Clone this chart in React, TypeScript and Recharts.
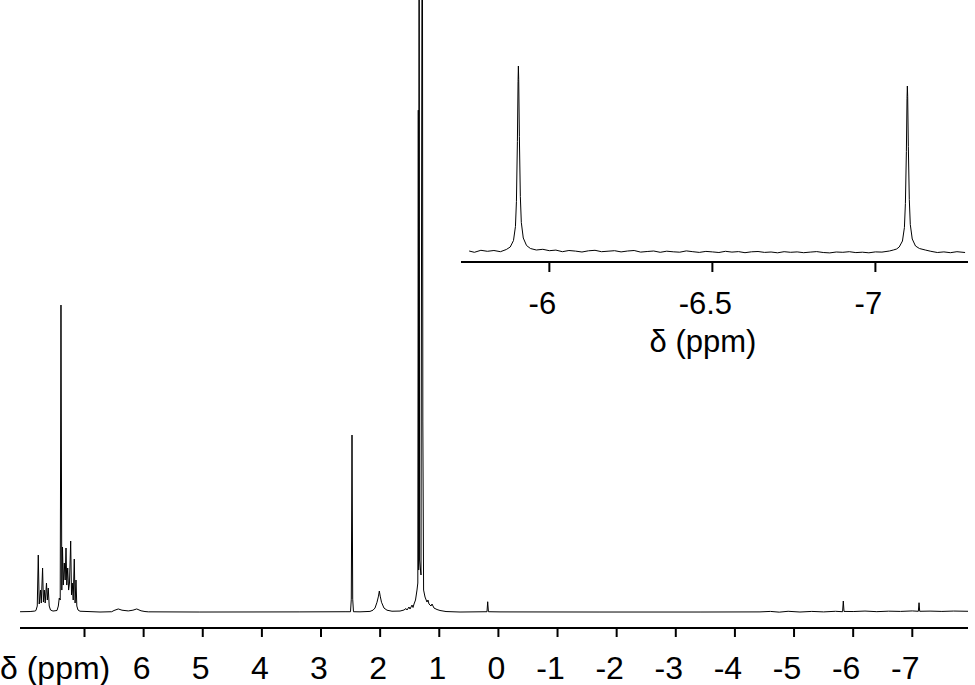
import { LineChart, Line, XAxis, YAxis } from 'recharts';

const FONT = 'Liberation Sans, Arial, sans-serif';

// main 1H spectrum, chemical shift (ppm) read along the lower axis
const MAIN_PPM = [
  8.09, 7.92, 7.84, 7.821, 7.799, 7.782, 7.766, 7.744, 7.731, 7.709, 7.695, 7.68, 7.665, 7.643, 7.629, 7.613,
  7.597, 7.575, 7.533, 7.465, 7.443, 7.427, 7.411, 7.398, 7.384, 7.372, 7.359, 7.342, 7.327, 7.313, 7.3,
  7.284, 7.269, 7.254, 7.234, 7.22, 7.207, 7.191, 7.173, 7.159, 7.144, 7.13, 7.11, 7.076,
  6.738, 6.54, 6.501, 6.429, 6.366, 6.26, 6.181, 6.117, 6.044, 5.977, 5.921, 5.049, 3.357, 2.594,
  2.501, 2.488, 2.476, 2.464, 2.451, 2.341, 2.172, 2.121, 2.087, 2.053, 2.028, 2.014, 1.999, 1.977,
  1.935, 1.884, 1.8, 1.664, 1.597, 1.563, 1.546, 1.512, 1.495, 1.461, 1.444, 1.427, 1.402, 1.377,
  1.363, 1.355, 1.348, 1.341, 1.333, 1.309, 1.287, 1.278, 1.265, 1.241, 1.208, 1.191, 1.174, 1.14,
  1.123, 1.089, 1.038, 0.988, 0.886, 0.649, 0.193, 0.181, 0.169, -0.027, -1.718, -3.41, -4.424,
  -4.6, -4.75, -4.9, -5.1, -5.3, -5.5, -5.7, -5.821, -5.833, -5.845, -6.0, -6.2, -6.4, -6.6, -6.8,
  -7.0, -7.102, -7.114, -7.125, -7.3, -7.5, -7.7, -7.942,
];

const MAIN_INTENSITY = [
  0.05, 0.08, 0.16, 0.25, 0.98, 9.31, 1.31, 3.59, 1.47, 7.19, 1.63, 3.59, 1.47, 4.74, 1.96, 3.92,
  0.98, 0.33, 0.16, 0.25, 0.98, 2.29, 1.96, 50.16, 3.59, 10.62, 4.41, 8.01, 5.23, 10.46, 4.41,
  7.19, 3.59, 4.74, 11.6, 2.78, 4.74, 1.96, 8.66, 1.47, 5.23, 0.98, 0.33, 0.13,
  0, 0.05, 0.25, 0.5, 0.3, 0.18, 0.3, 0.5, 0.2, 0.08, 0.03, 0, 0.02, 0.05,
  0.05, 2.1, 28.92, 2.1, 0.05, 0.03, 0.1, 0.3, 0.65, 1.6, 2.6, 3.43, 2.6, 1.6,
  0.65, 0.3, 0.13, 0.16, 0.33, 0.57, 0.33, 0.82, 0.49, 1.14, 0.74, 1.31, 1.96, 3.59,
  4.74, 82.0, 6.86, 140, 8.5, 6.05, 140, 31.05, 3.59, 2.45, 1.63, 1.96, 1.31, 0.98,
  1.31, 0.65, 0.41, 0.25, 0.08, 0, 0.05, 1.68, 0.05, 0.02, 0, 0, 0.02,
  0.1, -0.02, 0.12, 0, 0.1, 0.02, 0.12, 0.05, 1.8, 0.1, 0.08, 0.16, 0.06, 0.14, 0.1,
  0.18, 0.12, 1.52, 0.12, 0.15, 0.1, 0.16, 0.12,
];

// inset: expanded hydride region
const INSET_PPM = [
  -5.754, -5.77, -5.79, -5.81, -5.83, -5.85, -5.868, -5.88, -5.89, -5.896, -5.899, -5.902, -5.904,
  -5.905, -5.906, -5.908, -5.911, -5.914, -5.92, -5.93, -5.942, -5.96,
  -5.98, -6.0, -6.02, -6.04, -6.06, -6.08, -6.1, -6.12, -6.14, -6.16, -6.18, -6.2, -6.22, -6.24,
  -6.26, -6.28, -6.3, -6.32, -6.34, -6.36, -6.38, -6.4, -6.42, -6.44, -6.46, -6.48, -6.5, -6.52,
  -6.54, -6.56, -6.58, -6.6, -6.62, -6.64, -6.66, -6.68, -6.7, -6.72, -6.74, -6.76, -6.78, -6.8,
  -6.82, -6.84, -6.86, -6.88, -6.9, -6.92, -6.94, -6.96, -6.98, -7.0, -7.02,
  -7.043, -7.055, -7.065, -7.073, -7.083, -7.089, -7.092, -7.095, -7.097, -7.098, -7.099, -7.101,
  -7.104, -7.107, -7.113, -7.123, -7.135, -7.153, -7.17, -7.19, -7.21, -7.23, -7.25, -7.275,
];

const INSET_INTENSITY = [
  0.05, -0.08, 0.12, 0.02, 0.1, -0.02, 0.2, 0.45, 1.1, 2.5, 5.0, 11.0, 17.0,
  18.55, 17.2, 11.5, 5.5, 2.9, 1.35, 0.6, 0.3, 0.15,
  0.22, 0.08, 0.14, -0.02, 0.1, 0.04, -0.05, 0.07, 0.12, -0.02, 0.03, 0.08, -0.04, 0.05,
  0.1, -0.06, 0.0, 0.05, -0.08, 0.03, -0.03, -0.07, 0.06, -0.02, -0.09, 0.01, -0.04, -0.1,
  0.02, -0.06, -0.01, -0.12, -0.03, 0.0, -0.09, -0.05, -0.13, -0.02, -0.08, -0.04, -0.12, -0.06,
  -0.01, -0.1, -0.14, -0.05, -0.08, -0.02, -0.11, -0.07, -0.13, -0.04, -0.06,
  0.05, 0.15, 0.25, 0.45, 1.05, 2.4, 4.8, 10.0, 15.3, 16.55, 15.5, 10.5,
  5.2, 2.7, 1.25, 0.55, 0.3, 0.15, 0.02, -0.1, -0.04, -0.12, -0.02, -0.1,
];

const MAIN_TICKS = [7, 6, 5, 4, 3, 2, 1, 0, -1, -2, -3, -4, -5, -6, -7];
const INSET_TICKS = [-6, -6.5, -7];

const mainData = MAIN_PPM.map((ppm, i) => ({ ppm, y: MAIN_INTENSITY[i] }));
const insetData = INSET_PPM.map((ppm, i) => ({ ppm, y: INSET_INTENSITY[i] }));

// tick label renderer; the original's labels sit a little left of their ticks
function makeTick(size: number, hideValue?: number) {
  return (props: any) => {
    const v = props.payload.value;
    if (v === hideValue) return <g />;
    const shift = v < 0 ? -7 : -2;
    return (
      <text x={props.x + shift} y={props.y} dy="0.71em" textAnchor="middle" fontSize={size} fontFamily={FONT} fill="#000">
        {String(v)}
      </text>
    );
  };
}

export default function App() {
  return (
    <div style={{ position: 'relative', width: 975, height: 685, background: '#fff', overflow: 'hidden' }}>
      <style>{'body{margin:0}'}</style>

      {/* full spectrum */}
      <LineChart width={975} height={685} data={mainData} margin={{ top: 0, right: 7, left: 20, bottom: 0 }}>
        <XAxis
          dataKey="ppm"
          type="number"
          domain={[-7.942, 8.091]}
          reversed
          allowDataOverflow
          ticks={MAIN_TICKS}
          interval={0}
          height={57}
          tickSize={9}
          tickMargin={19}
          axisLine={{ stroke: '#000', strokeWidth: 2 }}
          tickLine={{ stroke: '#000', strokeWidth: 2 }}
          tick={makeTick(32, 7)}
        />
        <YAxis hide type="number" domain={[-2.61, 100]} allowDataOverflow />
        <Line type="linear" dataKey="y" stroke="#000" strokeWidth={1} dot={false} isAnimationActive={false} />
      </LineChart>

      {/* inset */}
      <div style={{ position: 'absolute', left: 0, top: 0 }}>
        <LineChart width={975} height={370} data={insetData} margin={{ top: 40, right: 7, left: 461, bottom: 0 }}>
          <XAxis
            dataKey="ppm"
            type="number"
            domain={[-7.284, -5.729]}
            reversed
            allowDataOverflow
            ticks={INSET_TICKS}
            interval={0}
            height={108}
            tickSize={10}
            tickMargin={20}
            axisLine={{ stroke: '#000', strokeWidth: 2 }}
            tickLine={{ stroke: '#000', strokeWidth: 2 }}
            tick={makeTick(31)}
          />
          <YAxis hide type="number" domain={[-1.05, 21.15]} allowDataOverflow />
          <Line type="linear" dataKey="y" stroke="#000" strokeWidth={1} dot={false} isAnimationActive={false} />
        </LineChart>
      </div>

      {/* axis titles */}
      <svg width={975} height={685} style={{ position: 'absolute', left: 0, top: 0, pointerEvents: 'none' }}>
        <text x={0} y={679} fontSize={32} fontFamily={FONT} fill="#000">δ (ppm)</text>
        <text x={703} y={352} fontSize={31} fontFamily={FONT} fill="#000" textAnchor="middle">δ (ppm)</text>
      </svg>
    </div>
  );
}
